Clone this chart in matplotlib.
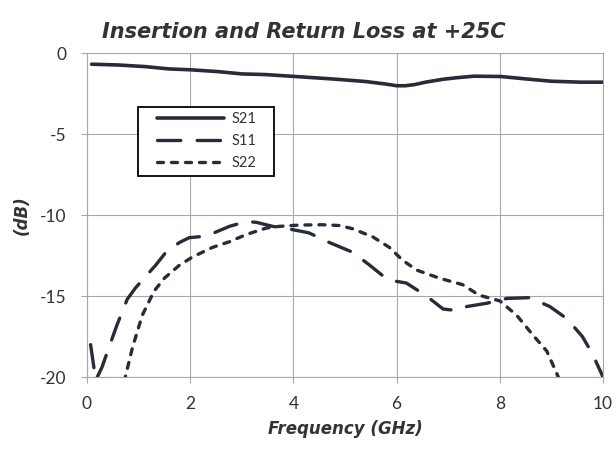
import matplotlib
matplotlib.use("Agg")
import matplotlib.pyplot as plt
from matplotlib.patches import Rectangle

plt.rcParams["axes.unicode_minus"] = False

# data (GHz, dB)
s21_f = [0.09, 0.61, 1.13, 1.58, 2.03, 2.55, 3.0, 3.45, 4.04, 4.75, 5.4, 5.8, 6.0, 6.17,
         6.35, 6.56, 6.9, 7.18, 7.5, 8.02, 8.54, 8.99, 9.57, 10.0]
s21_db = [-0.69, -0.74, -0.84, -0.98, -1.04, -1.15, -1.29, -1.33, -1.45, -1.6, -1.76, -1.92,
          -2.02, -2.02, -1.95, -1.8, -1.62, -1.52, -1.43, -1.45, -1.61, -1.74, -1.8, -1.8]

s11_f = [0.07, 0.17, 0.29, 0.49, 0.58, 0.78, 0.94, 1.33, 1.53, 1.79, 1.98, 2.31, 2.5, 2.76,
         3.09, 3.28, 3.6, 3.98, 4.3, 4.7, 5.15, 5.48, 5.83, 6.19, 6.58, 6.9, 7.17, 7.36,
         7.74, 8.14, 8.58, 8.97, 9.3, 9.6, 9.8, 10.0]
s11_db = [-18.0, -20.2, -19.4, -17.6, -16.8, -15.2, -14.5, -13.1, -12.3, -11.7, -11.4, -11.3,
          -11.05, -10.7, -10.4, -10.45, -10.7, -10.9, -11.1, -11.7, -12.3, -13.1, -14.0,
          -14.2, -15.0, -15.8, -15.9, -15.65, -15.45, -15.15, -15.1, -15.65, -16.4, -17.5,
          -18.6, -20.0]

s22_f = [0.72, 0.88, 1.07, 1.3, 1.5, 1.79, 2.04, 2.43, 2.76, 3.09, 3.48, 3.73, 4.12, 4.56,
         4.9, 5.15, 5.54, 5.86, 6.12, 6.39, 6.83, 7.28, 7.6, 8.0, 8.33, 8.64, 8.91, 9.1, 9.2]
s22_db = [-20.3, -18.2, -16.2, -14.7, -13.9, -13.1, -12.6, -12.0, -11.65, -11.2, -10.8, -10.7,
          -10.62, -10.6, -10.65, -10.85, -11.35, -12.0, -12.8, -13.4, -13.9, -14.3, -14.95,
          -15.3, -16.2, -17.4, -18.4, -19.75, -20.5]

x_ticks = [0, 2, 4, 6, 8, 10]
y_ticks = [0, -5, -10, -15, -20]

navy = "#262c38"
grey = "#a8a8a8"
txt = "#333333"

fig = plt.figure(figsize=(6.16, 4.57), dpi=100)
ax = fig.add_axes([0.1412, 0.175, 0.8377, 0.709])

ax.plot(s21_f, s21_db, color=navy, lw=2.6, solid_capstyle="round", label="S21")
ax.plot(s11_f, s11_db, color=navy, lw=2.4, dashes=(7.0, 4.9), dash_capstyle="round", label="S11")
ax.plot(s22_f, s22_db, color=navy, lw=2.4, dashes=(1.8, 2.4), dash_capstyle="round", label="S22")

ax.set_xlim(0, 10)
ax.set_ylim(-20, 0)
ax.set_xticks(x_ticks)
ax.set_yticks(y_ticks)
ax.grid(True, color=grey, lw=0.8)
ax.set_axisbelow(True)
for s in ax.spines.values():
    s.set_color(grey)
    s.set_linewidth(0.8)
ax.tick_params(direction="out", length=4.5, width=0.8, color=grey,
               labelsize=12.5, labelcolor=txt)
ax.tick_params(axis="y", pad=10)
ax.tick_params(axis="x", pad=9)
for lab in ax.get_xticklabels() + ax.get_yticklabels():
    lab.set_fontfamily("Lato")

ax.set_title("Insertion and Return Loss at +25C", fontsize=15, fontweight="bold",
             fontstyle="italic", color=txt, pad=11, x=0.42)
ax.set_xlabel("Frequency (GHz)", fontsize=12, fontweight="bold", fontstyle="italic",
              color=txt, labelpad=6)
ax.set_ylabel("(dB)", fontsize=12, fontweight="bold", fontstyle="italic",
              color=txt, labelpad=7)

# legend box drawn separately so its padding matches the reference
box = Rectangle((0.099, 0.62), 0.263, 0.213, transform=ax.transAxes, fc="white",
                ec="black", lw=1.3, zorder=4)
ax.add_patch(box)
leg = ax.legend(loc="upper left", bbox_to_anchor=(0.1357, 0.818), handlelength=4.6,
                prop={"family": "Lato", "size": 10.5}, labelspacing=0.55,
                borderpad=0, handletextpad=0.5, frameon=False, borderaxespad=0)
leg.set_zorder(5)
for t in leg.get_texts():
    t.set_color(txt)

fig.savefig("out.png", dpi=100)
